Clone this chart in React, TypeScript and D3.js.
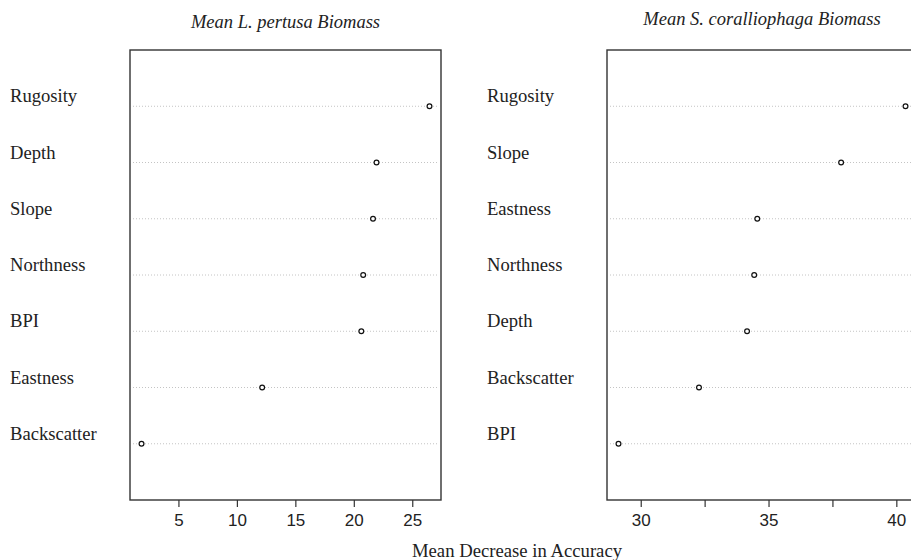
import * as d3 from 'd3';

// Panel 1: Mean L. pertusa Biomass (top row first)
const lpLabels = ['Rugosity', 'Depth', 'Slope', 'Northness', 'BPI', 'Eastness', 'Backscatter'];
const lpValues = [26.43, 21.9, 21.6, 20.76, 20.6, 12.12, 1.8];
const lpTicks = [5, 10, 15, 20, 25];
const lpTickLabels = ['5', '10', '15', '20', '25'];

// Panel 2: Mean S. coralliophaga Biomass
const scLabels = ['Rugosity', 'Slope', 'Eastness', 'Northness', 'Depth', 'Backscatter', 'BPI'];
const scValues = [40.34, 37.82, 34.54, 34.42, 34.14, 32.26, 29.11];
const scTicks = [30, 32.5, 35, 37.5, 40];
const scTickLabels = ['30', '', '35', '', '40'];

const titles = ['Mean L. pertusa Biomass', 'Mean S. coralliophaga Biomass'];
const xLabel = 'Mean Decrease in Accuracy';

const W = 911;
const H = 560;
const top = 50;
const bottom = 500;
const serif = '"Liberation Serif", "DejaVu Serif", serif';
const sans = '"Liberation Sans", Arial, sans-serif';

type PanelProps = {
  labels: string[];
  values: number[];
  ticks: number[];
  tickLabels: string[];
  title: string;
  titleY: number;
  left: number;
  right: number;
  labelX: number;
};

function Panel({ labels, values, ticks, tickLabels, title, titleY, left, right, labelX }: PanelProps) {
  // R dotchart style: range of data extended by 4%
  const [lo, hi] = d3.extent(values) as [number, number];
  const pad = (hi - lo) * 0.04;
  const x = d3.scaleLinear().domain([lo - pad, hi + pad]).range([left, right]);
  const n = labels.length;
  const y = d3.scaleLinear().domain([0, n + 1]).range([bottom, top]);

  return (
    <g>
      <text
        x={(left + right) / 2}
        y={titleY}
        textAnchor="middle"
        fontFamily={serif}
        fontStyle="italic"
        fontSize={18.5}
        fill="#222"
      >
        {title}
      </text>

      {labels.map((lab, i) => {
        const yy = y(n - i);
        return (
          <g key={lab}>
            <line
              x1={left + 3}
              x2={right - 2}
              y1={yy}
              y2={yy}
              stroke="#c4c4c4"
              strokeWidth={1}
              strokeDasharray="1 2"
            />
            <text x={labelX} y={yy - 4} fontFamily={serif} fontSize={18.6} fill="#222">
              {lab}
            </text>
            <circle cx={x(values[i])} cy={yy} r={2.4} fill="white" stroke="#111" strokeWidth={1.2} />
          </g>
        );
      })}

      <rect
        x={left}
        y={top}
        width={right - left}
        height={bottom - top}
        fill="none"
        stroke="#333"
        strokeWidth={1.4}
      />

      {ticks.map((t, i) => (
        <g key={t}>
          <line x1={x(t)} x2={x(t)} y1={bottom} y2={bottom + 7} stroke="#333" strokeWidth={1.2} />
          {tickLabels[i] && (
            <text
              x={x(t)}
              y={bottom + 26}
              textAnchor="middle"
              fontFamily={sans}
              fontSize={17}
              fill="#222"
            >
              {tickLabels[i]}
            </text>
          )}
        </g>
      ))}
    </g>
  );
}

export default function App() {
  return (
    <svg
      width={W}
      height={H}
      style={{ position: 'absolute', left: 0, top: 0, background: 'white' }}
    >
      <Panel
        labels={lpLabels}
        values={lpValues}
        ticks={lpTicks}
        tickLabels={lpTickLabels}
        title={titles[0]}
        titleY={28}
        left={130}
        right={441}
        labelX={10}
      />
      <Panel
        labels={scLabels}
        values={scValues}
        ticks={scTicks}
        tickLabels={scTickLabels}
        title={titles[1]}
        titleY={25}
        left={607}
        right={917}
        labelX={487}
      />
      <text x={517} y={557} textAnchor="middle" fontFamily={serif} fontSize={18.7} fill="#222">
        {xLabel}
      </text>
    </svg>
  );
}
